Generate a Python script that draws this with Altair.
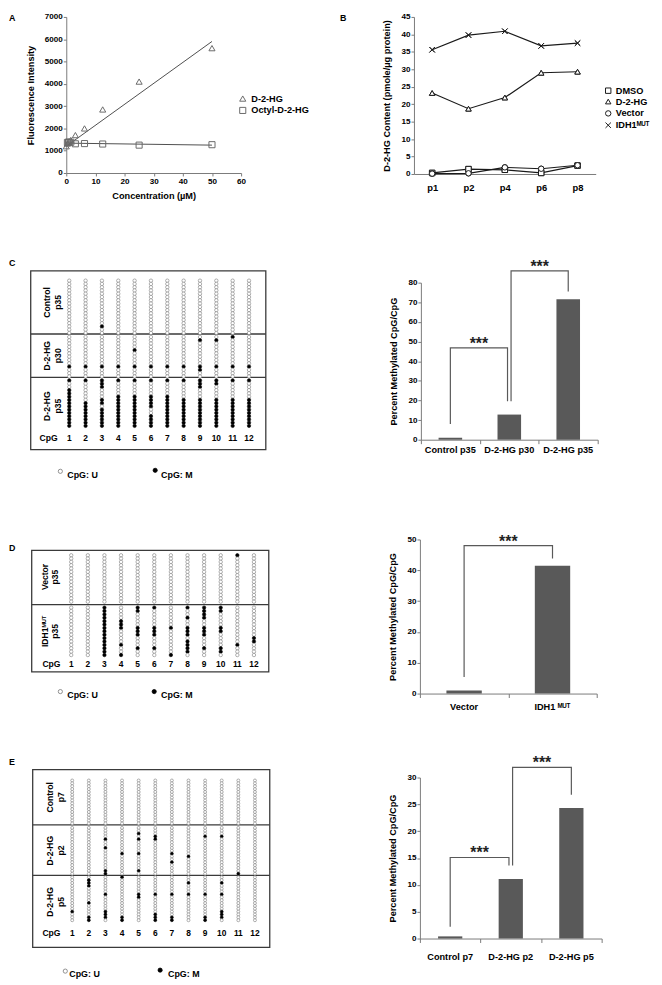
import altair as alt
import pandas as pd

# ===================== data =====================
# A: fluorescence vs concentration
a_series = ["D-2-HG", "Octyl-D-2-HG"]
a_conc_d2hg = [0, 0.39, 0.78, 1.56, 3.125, 6.25, 12.5, 25, 50]
a_fluo_d2hg = [1200, 1320, 1380, 1480, 1700, 2000, 2850, 4100, 5600]
a_conc_octyl = [0.39, 0.78, 1.56, 3.125, 6.25, 12.5, 25, 50]
a_fluo_octyl = [1370, 1390, 1380, 1310, 1320, 1300, 1250, 1270]
a_trend_conc = [0, 50]
a_trend_d2hg = [1200, 5900]
a_trend_octyl = [1340, 1250]

# B: D-2-HG content by passage
b_passages = ["p1", "p2", "p4", "p6", "p8"]
b_series = ["DMSO", "D-2-HG", "Vector", "IDH1MUT"]
b_dmso = [0.3, 1.4, 1.2, 0.3, 2.4]
b_d2hg = [23.2, 18.7, 21.9, 29.0, 29.3]
b_vector = [0.1, 0.2, 1.9, 1.5, 2.5]
b_idh1 = [35.6, 39.8, 40.9, 36.7, 37.5]

# bar panels (percent methylated CpG/CpG)
c_groups = ["Control p35", "D-2-HG p30", "D-2-HG p35"]
c_values = [1.0, 12.8, 71.5]
c_brackets = [[0, 0.97, 8.0, 46.8, 19.6], [1.03, 2, 19.6, 86.0, 75.5]]   # left, right, left foot, top, right foot

d_groups = ["Vector", "IDH1MUT"]
d_values = [1.0, 41.5]
d_brackets = [[0, 1, 5.4, 48.0, 43.8]]

e_groups = ["Control p7", "D-2-HG p2", "D-2-HG p5"]
e_values = [0.4, 11.1, 24.3]
e_brackets = [[0, 0.97, 2.2, 15.1, 13.6], [1.03, 2, 13.6, 31.9, 26.8]]

# methylation maps: one string per CpG site, one char per clone (o = unmethylated, x = methylated)
cpg_sites = [1, 2, 3, 4, 5, 6, 7, 8, 9, 10, 11, 12]

c_sections = ["Control\np35", "D-2-HG\np30", "D-2-HG\np35"]
c_maps = [
    ["ooooooooooooooooo", "ooooooooooooooooo", "ooooooooooooooxoo", "ooooooooooooooooo",
     "ooooooooooooooooo", "ooooooooooooooooo", "ooooooooooooooooo", "ooooooooooooooooo",
     "ooooooooooooooooo", "ooooooooooooooooo", "ooooooooooooooooo", "ooooooooooooooooo"],
    ["oooooooooxooo", "oooooooooxooo", "oooooooooxooo", "oooooooooxooo",
     "ooooxooooxooo", "oooooooooxooo", "oooooooooxooo", "oooooooooxooo",
     "oxoooooooxxoo", "oxoooooooxooo", "xooooooooxooo", "oooooooooxooo"],
    ["xooxxxxxxxxxxxx", "xooooooxxxxxxxx", "xxxoooxxoxxxxxx", "xooooxxxxxxxxxx",
     "xooooxxxxxxxxxx", "xooooxxxxooxxxx", "xooooxxxxxxxxxx", "xoooooxxxxxxxxx",
     "xxxoooxxxxxxxxx", "xxooooxxxxxxxxx", "xoooooxxxxxxxxx", "xoooooxxxxxxxxx"],
]

d_sections = ["Vector\np35", "IDH1\u1d39\u1d41\u1d40\np35"]
d_maps = [
    ["ooooooooooooooo", "ooooooooooooooo", "ooooooooooooooo", "ooooooooooooooo",
     "ooooooooooooooo", "ooooooooooooooo", "ooooooooooooooo", "ooooooooooooooo",
     "ooooooooooooooo", "ooooooooooooooo", "xoooooooooooooo", "ooooooooooooooo"],
    ["ooooooooooooooo", "ooooooooooooooo", "xxxxxxxxxxxxxxx", "ooooxxxooooxoox",
     "xxooooxxxoooxoo", "xoooooxxxoooxoo", "ooooooxooooooox", "xooxooxxxoxxxxo",
     "xxxxooxxxoooxoo", "xxooooxxooooxxo", "oooooooooooxooo", "oooooooooxxoooo"],
]

e_sections = ["Control\np7", "D-2-HG\np2", "D-2-HG\np5"]
e_maps = [
    ["oooooooooooooooo", "oooooooooooooooo", "oooooooooooooooo", "oooooooooooooooo",
     "oooooooooooooooo", "oooooooooooooooo", "oooooooooooooooo", "oooooooooooooooo",
     "oooooooooooooooo", "oooooooooooooooo", "oooooooooooooooo", "oooooooooooooooo"],
    ["ooooooooooooooooo", "ooooooooooooooooo", "ooooxooxoooooooxx", "oooooooooxooooooo",
     "ooxoxooooxoooooxo", "oooxxoooooooooooo", "oooooooooxooxoooo", "ooooooooooxoooooo",
     "oooxooooooooooooo", "oooxooooooooooooo", "oooooooooooooooox", "ooooooooooooooooo"],
    ["ooooooooooooxooo", "oxxxoooooxooooxx", "ooooooxoooooxxxo", "xoooooooooooooxx",
     "ooooooxxoooooooo", "ooooooxooooooxxx", "ooooooxoooooooxx", "ooxoooxooooooooo",
     "ooooooxoooooooxx", "ooxoooxoooooxxxo", "oooooooooooooooo", "oooooooooooooooo"],
]

# ===================== layout =====================
MARGIN = 8
W, H = 654, 977


def X(v):
    return v - MARGIN


def Y(v):
    return v - MARGIN


FONT = "Liberation Sans"
AXC = "#7a7a7a"
dummy = pd.DataFrame({"k": [0]})
layers = []


def txt(s, x, y, size=9.0, align="center", baseline="middle", angle=0, **kw):
    props = dict(text=s, fontSize=size, font=FONT, fontWeight="bold", align=align,
                 baseline=baseline, color="black")
    if angle:
        props["angle"] = angle
    props.update(kw)
    return alt.Chart(dummy).mark_text(**props).encode(x=alt.value(X(x)), y=alt.value(Y(y)))


# panel letters
layers += [txt("A", 9, 12, align="left"), txt("B", 344, 12, align="left"),
           txt("C", 9, 260, align="left"), txt("D", 9, 549, align="left"),
           txt("E", 9, 765, align="left")]

# ---------------- Panel A ----------------
dfA = pd.DataFrame({"conc": a_conc_d2hg + a_conc_octyl,
                    "fluo": a_fluo_d2hg + a_fluo_octyl,
                    "series": [a_series[0]] * len(a_conc_d2hg) + [a_series[1]] * len(a_conc_octyl)})
dfAt = pd.DataFrame({"conc": a_trend_conc * 2, "fluo": a_trend_d2hg + a_trend_octyl,
                     "series": [a_series[0]] * 2 + [a_series[1]] * 2})
xA = alt.Scale(domain=[0, 60], range=[X(67), X(244)], nice=False, zero=False)
yA = alt.Scale(domain=[0, 7000], range=[Y(169), Y(11)], nice=False, zero=False)
layers.append(alt.Chart(dfAt).mark_line(color="#4d4d4d", strokeWidth=1).encode(
    x=alt.X("conc:Q", scale=xA, axis=alt.Axis(orient="bottom", offset=Y(169) - H,
                                               values=[0, 10, 20, 30, 40, 50, 60],
                                               title="Concentration (\u00b5M)", titlePadding=7,
                                               labelPadding=2)),
    y=alt.Y("fluo:Q", scale=yA, axis=alt.Axis(orient="left", offset=-X(67), format="d",
                                               values=[0, 1000, 2000, 3000, 4000, 5000, 6000, 7000],
                                               title="Fluorescence Intensity", titlePadding=9)),
    detail="series:N"))
layers.append(alt.Chart(dfA).mark_point(size=38, strokeWidth=1, color="#6a6a6a", opacity=1).encode(
    x=alt.X("conc:Q", scale=xA, axis=None),
    y=alt.Y("fluo:Q", scale=yA, axis=None),
    shape=alt.Shape("series:N", scale=alt.Scale(domain=a_series, range=["triangle-up", "square"]),
                    legend=alt.Legend(orient="none", legendX=X(241), legendY=Y(89), title=None,
                                      symbolFillColor="transparent", symbolStrokeColor="#6a6a6a",
                                      symbolStrokeWidth=1, symbolSize=38, labelOffset=4,
                                      rowPadding=1, padding=0))))

# ---------------- Panel B ----------------
dfB = pd.DataFrame({"passage": b_passages * 4,
                    "content": b_dmso + b_d2hg + b_vector + b_idh1,
                    "series": [s for s in b_series for _ in b_passages]})
xB = alt.Scale(type="point", domain=b_passages, range=[X(419), X(603)], padding=0.5)
yB = alt.Scale(domain=[0, 45], range=[Y(170), Y(11)], nice=False, zero=False)
b_shapes = alt.Scale(domain=b_series,
                     range=["square", "triangle-up", "circle", "M-1,-1L1,1M1,-1L-1,1"])
layers.append(alt.Chart(dfB).mark_line(color="#1a1a1a", strokeWidth=1.2).encode(
    x=alt.X("passage:N", scale=xB, axis=alt.Axis(orient="bottom", offset=Y(170) - H, ticks=False,
                                                  labelPadding=9, labelFontSize=9.5, title=None,
                                                  labelAngle=0)),
    y=alt.Y("content:Q", scale=yB, axis=alt.Axis(orient="left", offset=-X(419),
                                                  values=[0, 5, 10, 15, 20, 25, 30, 35, 40, 45],
                                                  title="D-2-HG Content (pmole/\u00b5g protein)",
                                                  titlePadding=10)),
    detail="series:N"))
# open markers carrying the legend
layers.append(alt.Chart(dfB).mark_point(color="#1a1a1a", strokeWidth=1, size=30, opacity=1).encode(
    x=alt.X("passage:N", scale=xB, axis=None),
    y=alt.Y("content:Q", scale=yB, axis=None),
    shape=alt.Shape("series:N", scale=b_shapes,
                    legend=alt.Legend(orient="none", legendX=X(611), legendY=Y(81), title=None,
                                      symbolStrokeColor="#1a1a1a", symbolFillColor="transparent",
                                      symbolStrokeWidth=1, symbolSize=30, labelOffset=3,
                                      rowPadding=1, padding=0,
                                      labelExpr="datum.label == 'IDH1MUT' ? 'IDH1\u1d39\u1d41\u1d40' : datum.label"))))
# white-filled markers on top (hide the line inside the symbols)
layers.append(alt.Chart(dfB).mark_point(filled=True, fill="white", stroke="#1a1a1a", strokeWidth=1,
                                        size=30, opacity=1).encode(
    x=alt.X("passage:N", scale=xB, axis=None),
    y=alt.Y("content:Q", scale=yB, axis=None),
    shape=alt.Shape("series:N", scale=b_shapes, legend=None)))


# ---------------- bar panels ----------------
def bar_panel(groups, values, brackets, x_left, x_right, y_zero, y_top, ymax, ystep, lab_pad):
    n = len(groups)
    xb = alt.Scale(type="band", domain=groups, range=[X(x_left), X(x_right)],
                   paddingInner=0.6, paddingOuter=0.3)
    xq = alt.Scale(domain=[-0.5, n - 0.5], range=[X(x_left), X(x_right)], nice=False, zero=False)
    ys = alt.Scale(domain=[0, ymax], range=[Y(y_zero), Y(y_top)], nice=False, zero=False)
    df = pd.DataFrame({"group": groups, "value": values})
    out = []
    out.append(alt.Chart(df).mark_bar(color="#595959").encode(
        x=alt.X("group:N", scale=xb, sort=None,
                axis=alt.Axis(orient="bottom", offset=Y(y_zero) - H, ticks=False, labelPadding=lab_pad,
                              labelFontSize=9.3, title=None, labelAngle=0,
                              labelExpr="datum.label == 'IDH1MUT' ? 'IDH1 \u1d39\u1d41\u1d40' : datum.label")),
        y=alt.Y("value:Q", scale=ys,
                axis=alt.Axis(orient="left", offset=-X(x_left), values=list(range(0, ymax + 1, ystep)),
                              title="Percent Methylated CpG/CpG", titlePadding=10))))
    rows = []
    for i, (l, r, yl, yt, yr) in enumerate(brackets):
        rows += [dict(b=i, k=0, bx=l, by=yl), dict(b=i, k=1, bx=l, by=yt),
                 dict(b=i, k=2, bx=r, by=yt), dict(b=i, k=3, bx=r, by=yr)]
    out.append(alt.Chart(pd.DataFrame(rows)).mark_line(color="#595959", strokeWidth=1.2).encode(
        x=alt.X("bx:Q", scale=xq,
                axis=alt.Axis(orient="bottom", offset=Y(y_zero) - H,
                              values=[i - 0.5 for i in range(n + 1)], labels=False, domain=False,
                              tickSize=4, title=None)),
        y=alt.Y("by:Q", scale=ys, axis=None),
        detail="b:N", order="k:Q"))
    sdf = pd.DataFrame({"sx": [(b[0] + b[1]) / 2 for b in brackets], "sy": [b[3] for b in brackets]})
    out.append(alt.Chart(sdf).mark_text(text="***", fontSize=16, font=FONT, fontWeight="bold",
                                         baseline="alphabetic", dy=1, color="#222").encode(
        x=alt.X("sx:Q", scale=xq, axis=None), y=alt.Y("sy:Q", scale=ys, axis=None)))
    return out


layers += bar_panel(c_groups, c_values, c_brackets, 426, 605, 439, 280, 80, 10, 6)
layers += bar_panel(d_groups, d_values, d_brackets, 425, 604, 696, 540, 50, 10, 9)
layers += bar_panel(e_groups, e_values, e_brackets, 425, 609, 944, 781, 30, 5, 14)


# ---------------- methylation grids ----------------
def grid_panel(sec_labels, maps, first_y, last_y, col_x, label_x, label_y, frame, dividers,
               cpg_y, cpg_x, leg, dot_size):
    out = []
    xs = alt.Scale(domain=[1, 12], range=[X(col_x[0]), X(col_x[1])], zero=False, nice=False)
    fill_sc = alt.Scale(domain=["U", "M"], range=["white", "black"])
    stroke_sc = alt.Scale(domain=["U", "M"], range=["#7a7a7a", "black"])
    x0, y0, x1, y1 = frame
    out.append(alt.Chart(dummy).mark_rect(fillOpacity=0, stroke="#3a3a3a", strokeWidth=1.3).encode(
        x=alt.value(X(x0)), x2=alt.value(X(x1)), y=alt.value(Y(y0)), y2=alt.value(Y(y1))))
    for d in dividers:
        out.append(alt.Chart(dummy).mark_rule(color="#3a3a3a", strokeWidth=1.3).encode(
            x=alt.value(X(x0)), x2=alt.value(X(x1)), y=alt.value(Y(d))))
    for s in range(len(sec_labels)):
        cols = maps[s]
        n = len(cols[0])
        rows = [{"cpg": cpg_sites[c], "clone": k, "state": "M" if ch == "x" else "U"}
                for c, col in enumerate(cols) for k, ch in enumerate(col)]
        ys = alt.Scale(domain=[0, n - 1], range=[Y(first_y[s]), Y(last_y[s])], zero=False, nice=False)
        out.append(alt.Chart(pd.DataFrame(rows)).mark_point(filled=True, size=dot_size, strokeWidth=0.6,
                                                            opacity=1, shape="circle").encode(
            x=alt.X("cpg:Q", scale=xs, axis=None),
            y=alt.Y("clone:Q", scale=ys, axis=None),
            fill=alt.Fill("state:N", scale=fill_sc, legend=None),
            stroke=alt.Stroke("state:N", scale=stroke_sc, legend=None)))
        out.append(txt(sec_labels[s], label_x, label_y[s], size=8.7, angle=270, lineHeight=10.5,
                       lineBreak="\n"))
    out.append(alt.Chart(pd.DataFrame({"cpg": cpg_sites})).mark_text(
        font=FONT, fontWeight="bold", fontSize=8.5, color="black").encode(
        x=alt.X("cpg:Q", scale=xs, axis=None), y=alt.value(Y(cpg_y)), text="cpg:Q"))
    out.append(txt("CpG", cpg_x, cpg_y, size=8.7))
    (ux, uy, utx), (mx, my, mtx), ty = leg
    out.append(alt.Chart(dummy).mark_point(shape="circle", filled=True, fill="white", stroke="#777",
                                           strokeWidth=0.8, size=18, opacity=1).encode(
        x=alt.value(X(ux)), y=alt.value(Y(uy))))
    out.append(alt.Chart(dummy).mark_point(shape="circle", filled=True, fill="black", stroke="black",
                                           strokeWidth=0.8, size=18, opacity=1).encode(
        x=alt.value(X(mx)), y=alt.value(Y(my))))
    out.append(txt("CpG: U", utx, ty, size=9, align="left"))
    out.append(txt("CpG: M", mtx, ty, size=9, align="left"))
    return out


layers += grid_panel(c_sections, c_maps, [278, 335, 379], [331, 375, 425], [70, 252], 48,
                     [300, 354, 405], (31, 268, 269, 449), [332, 376], 437, 49,
                     ((61, 471, 68), (157, 470, 163), 475), 12)
layers += grid_panel(d_sections, d_maps, [556, 609], [603, 657], [72, 257], 45,
                     [578, 633], (32, 551, 272, 674), [606], 666, 52,
                     ((61, 694, 68), (156, 694, 163), 698), 12)
layers += grid_panel(e_sections, e_maps, [784, 832, 882], [827.5, 878.4, 925.5], [73, 258], 51,
                     [801, 855, 907], (33, 773, 273, 953), [829, 880], 938, 52,
                     ((66, 977, 70), (162, 976, 170), 980), 9)

chart = alt.layer(*layers).resolve_scale(
    x="independent", y="independent", shape="independent"
).resolve_axis(x="independent", y="independent").resolve_legend(shape="independent").properties(
    width=W, height=H, padding=0, autosize=alt.AutoSizeParams(type="none"),
    background="white"
).configure_view(stroke="transparent").configure_axis(
    grid=False, domainColor=AXC, tickColor=AXC, domainWidth=1, tickWidth=1, tickSize=3,
    labelColor="black", titleColor="black", labelFont=FONT, titleFont=FONT,
    labelFontWeight="bold", titleFontWeight="bold", labelFontSize=8.2, titleFontSize=9.3,
    labelPadding=1, labelFlush=False, labelOverlap=False
).configure_legend(
    labelFont=FONT, labelFontWeight="bold", labelFontSize=9.3, labelColor="black"
)

chart.save("out.html", embed_options={"renderer": "svg", "actions": False})
